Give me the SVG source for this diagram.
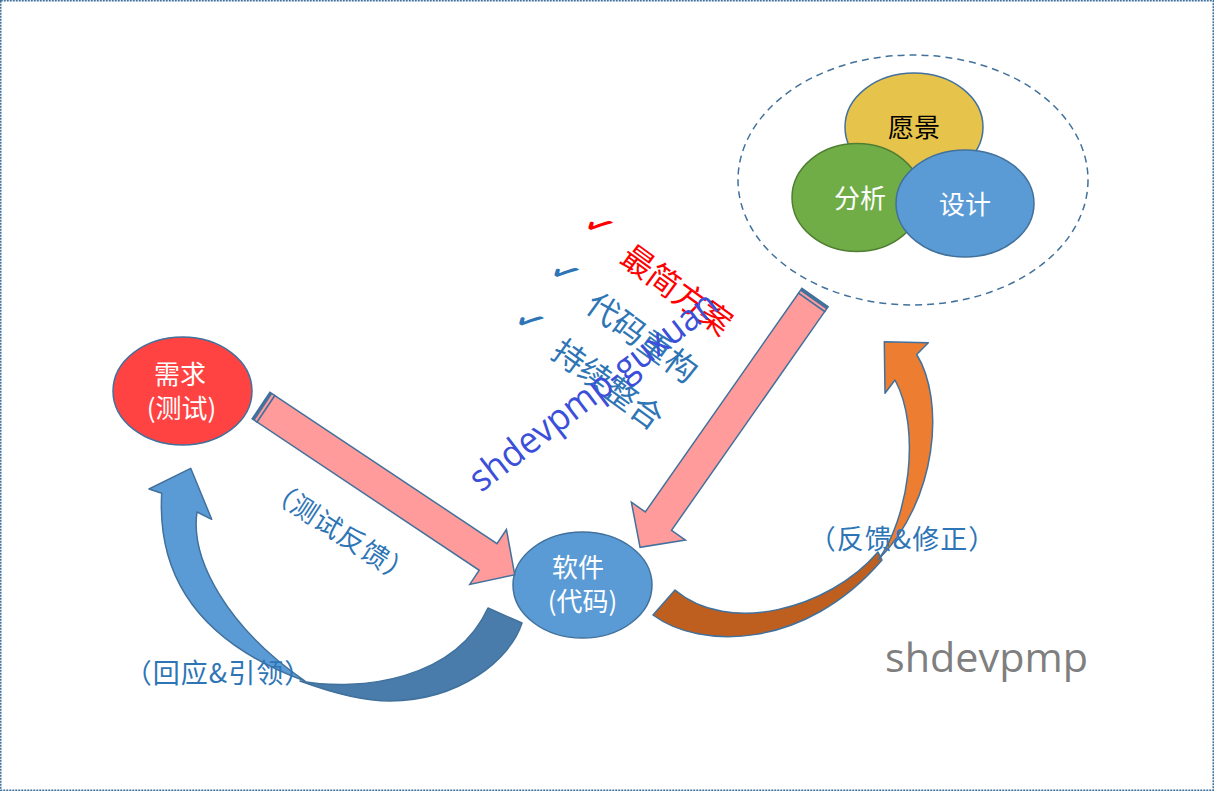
<svg xmlns="http://www.w3.org/2000/svg" xmlns:xlink="http://www.w3.org/1999/xlink" width="1214" height="791" viewBox="0 0 1214 791">
<style>
.cjk{font-family:"Noto Sans CJK SC","Noto Sans",sans-serif}
.node{stroke:#41719C;stroke-width:1.5}
.lbl{font-size:26px;fill:#fff;text-anchor:middle}
.note{font-size:27px;fill:#2E75B6;text-anchor:middle;letter-spacing:1px}
.pk{fill:#FF9B9B;stroke:#41719C;stroke-width:1.5;stroke-linejoin:miter}
.cv{stroke:#41719C;stroke-width:1.5;stroke-linejoin:round}
.chk{font-family:"DejaVu Sans",sans-serif;font-size:36px;text-anchor:middle}
.item{font-size:32px;text-anchor:middle}
</style>
<defs>
  <g id="stripedArrow">
    <rect x="0" y="-16" width="6" height="32" class="pk"/>
    <rect x="0" y="-16" width="3" height="32" fill="#41719C"/>
    <polygon points="6,-16 273,-16 273,-33 305,0 273,33 273,16 6,16" class="pk"/>
  </g>
</defs>
<rect width="1214" height="791" fill="#ffffff"/>
<rect x="0.75" y="0.75" width="1212.5" height="789.5" fill="none" stroke="#41719C" stroke-width="1.5" stroke-dasharray="2 1"/>

<g id="group-vision">
  <ellipse cx="913" cy="180" rx="175" ry="125" fill="none" stroke="#41719C" stroke-width="1.5" stroke-dasharray="7 5"/>
</g>
<g id="node-vision">
  <ellipse cx="914" cy="127" rx="69" ry="54" fill="#E6C34B" class="node"/>
  <text x="914" y="137" class="cjk lbl" style="fill:#000">愿景</text>
</g>
<g id="node-analysis">
  <ellipse cx="857" cy="197.5" rx="65" ry="54" fill="#70AD47" stroke="#507E32" stroke-width="1.5"/>
  <text x="860" y="208" class="cjk lbl">分析</text>
</g>
<g id="node-design">
  <ellipse cx="965" cy="203.5" rx="69" ry="53.5" fill="#5B9BD5" class="node"/>
  <text x="965" y="214" class="cjk lbl">设计</text>
</g>
<g id="node-requirement">
  <ellipse cx="182.5" cy="391" rx="69.5" ry="54" fill="#FF4343" class="node"/>
  <text x="180" y="384" class="cjk lbl">需求</text>
  <text x="181.5" y="418" class="cjk lbl">(测试)</text>
</g>
<g id="node-software">
  <ellipse cx="582.5" cy="585" rx="69.5" ry="53" fill="#5B9BD5" class="node"/>
  <text x="578" y="577" class="cjk lbl">软件</text>
  <text x="582.5" y="611" class="cjk lbl">(代码)</text>
</g>

<g id="connectors">
  <use xlink:href="#stripedArrow" href="#stripedArrow" transform="translate(261,405.5) rotate(33.7)"/>
  <use xlink:href="#stripedArrow" href="#stripedArrow" transform="translate(815,297.5) rotate(125)"/>
  <path class="cv" fill="#497CAA" d="M488,608 L522,623 C510,660 460,700 390,701 C360,701 330,692 300,681 C360,692 455,680 488,608 Z"/>
  <path class="cv" fill="#5B9BD5" d="M190.7,468.3 L211.7,519.3 L197,512 C190,560 228,628 305,681 C220,650 156,595 161.7,493.3 L149,489 Z"/>
  <path class="cv" fill="#BE5F1F" d="M675,590 L653,615 C700,650 805,650 882,560 L878,552 C828,610 728,635 675,590 Z"/>
  <path class="cv" fill="#ED7D31" d="M884.3,341.7 L928.3,342.7 L916.7,354.5 C945,400 938,500 878,560 C908,520 922,430 895,380 L885,393.3 Z"/>
  <text class="cjk note" transform="translate(340,533) rotate(33)" y="9">（测试反馈）</text>
  <text class="cjk note" x="218.5" y="683">（回应&amp;引领）</text>
  <text class="cjk note" x="902.5" y="549">（反馈&amp;修正）</text>
</g>

<g id="practices" transform="translate(677,289.5) rotate(36)">
  <text class="chk" x="-100" y="6" fill="#FF0000">✓</text>
  <text class="chk" x="-100" y="64" fill="#2E75B6">✓</text>
  <text class="chk" x="-100" y="124" fill="#2E75B6">✓</text>
  <text class="cjk item" x="0" y="12" fill="#FF0000">最简方案</text>
  <text class="cjk item" x="0" y="71" fill="#2E75B6">代码重构</text>
  <text class="cjk item" x="0" y="129" fill="#2E75B6">持续整合</text>
</g>

<text x="481" y="493" transform="rotate(-37.5 481 493)" font-family="Open Sans, sans-serif" font-size="37" fill="#3B4FD9" textLength="302" lengthAdjust="spacingAndGlyphs">shdevpmp-guxuan</text>
<text x="885" y="672" font-family="Open Sans, sans-serif" font-size="41" fill="#7F7F7F" textLength="203" lengthAdjust="spacingAndGlyphs">shdevpmp</text>
</svg>
